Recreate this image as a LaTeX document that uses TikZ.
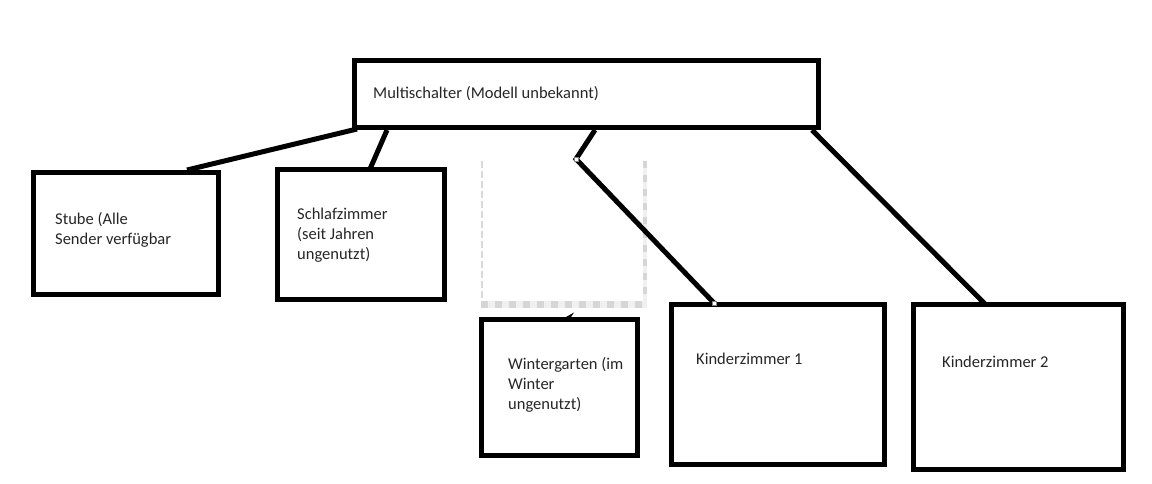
\documentclass[tikz,border=0pt]{standalone}
\usepackage{fontspec}
\setmainfont{Carlito}
\begin{document}
\begin{tikzpicture}[x=1pt,y=-1pt,
  box/.style={draw=black,line width=5pt,inner sep=0pt,anchor=center},
  txt/.style={font=\fontsize{16.5}{20}\selectfont,text=black!85,inner sep=0pt,align=left,anchor=base west},
  conn/.style={draw=black,line width=5pt},
  handle/.style={draw=gray,fill=white,line width=0.6pt,minimum size=4pt,inner sep=0pt}]
\useasboundingbox (0,0) rectangle (1152,483);
% checkered placeholder frame
\draw[gray!30,line width=2pt,dash pattern=on 7pt off 3pt] (482,161) -- (482,301);
\fill[gray!12] (481,301) rectangle (647,308);
\foreach \x in {481,495,...,640} \fill[gray!32] (\x,301) rectangle ++(7,7);
\fill[gray!12] (643,161) rectangle (647,301);
\foreach \y in {161,175,...,295} \fill[gray!32] (643,\y) rectangle ++(4,7);
% boxes
\node[box,minimum width=464pt,minimum height=67pt] (ms) at (586.5,94) {};
\node[box,minimum width=185pt,minimum height=122pt] (st) at (126,233.5) {};
\node[box,minimum width=167pt,minimum height=130pt] (sl) at (361,234.5) {};
\node[box,minimum width=156pt,minimum height=136pt] (wg) at (559.5,387.5) {};
\node[box,minimum width=213pt,minimum height=160pt] (k1) at (778,384.5) {};
\node[box,minimum width=210pt,minimum height=165pt] (k2) at (1018.5,387) {};
% texts (anchored at the baseline of their last line)
\node[txt] (mst) at (373,98) {Multischalter (Modell unbekannt)};
\node[txt] (stt) at (55,244) {Stube (Alle\\Sender verfügbar};
\node[txt] (slt) at (297,259) {Schlafzimmer\\(seit Jahren\\ungenutzt)};
\node[txt] (wgt) at (508,409) {Wintergarten (im\\Winter\\ungenutzt)};
\node[txt] (k1t) at (696,364) {Kinderzimmer 1};
\node[txt] (k2t) at (942,367) {Kinderzimmer 2};
% connector end points
\coordinate (a1) at (357,129);
\coordinate (a2) at (187,170);
\coordinate (b1) at (387,130);
\coordinate (b2) at (370,169);
\coordinate (c1) at (595,130);
\coordinate (c2) at (576,159);
\coordinate (c3) at (714,303);
\coordinate (d1) at (812,130);
\coordinate (d2) at (986,305);
\draw[conn] (a1) -- (a2);
\draw[conn] (b1) -- (b2);
\draw[conn] (c1) -- (c2) -- (c3);
\draw[conn] (d1) -- (d2);
\node[handle] (h1) at (c2) {};
\node[handle] (h2) at (c3) {};
\fill (566,317) -- (574,312.5) -- (571,317) -- cycle;
\end{tikzpicture}
\end{document}
